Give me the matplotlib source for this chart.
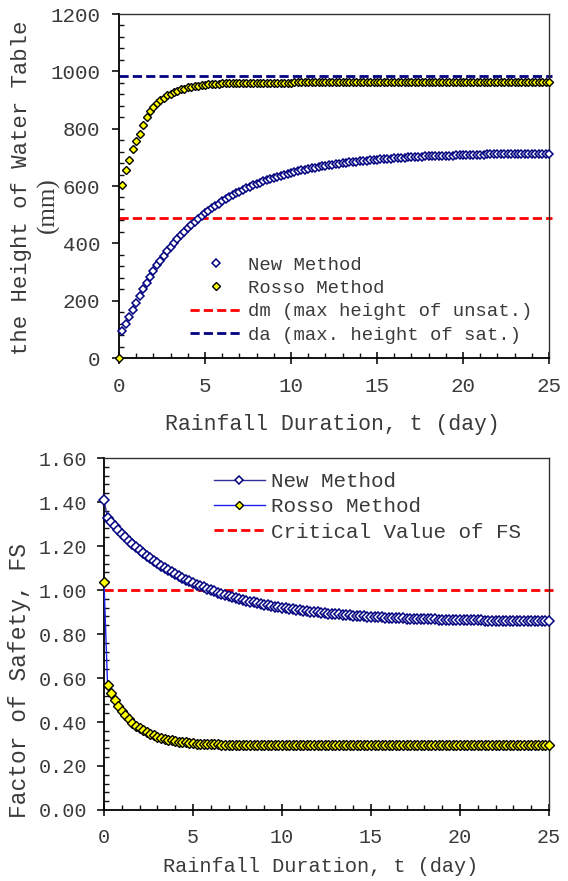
import numpy as np
import matplotlib.pyplot as plt
from matplotlib.ticker import MultipleLocator, FormatStrFormatter

plt.rcParams['font.family'] = ['Liberation Mono', 'DejaVu Sans Mono']
plt.rcParams['text.color'] = '#3a3a3a'
plt.rcParams['xtick.color'] = '#111111'
plt.rcParams['ytick.color'] = '#111111'
plt.rcParams['xtick.labelcolor'] = '#3a3a3a'
plt.rcParams['ytick.labelcolor'] = '#3a3a3a'

DAY_STEP = 0.2  # sampling step of both models (day)

# --- water table height (mm) ---
height_new = [
    95, 118, 142, 168, 193, 218, 241, 263, 284, 304,
    323, 340, 356, 372, 387, 401, 415, 428, 441, 453,
    464, 475, 485, 495, 505, 514, 523, 531, 539, 547,
    554, 561, 568, 574, 580, 586, 592, 597, 602, 607,
    612, 616, 621, 625, 629, 633, 636, 640, 643, 646,
    649, 652, 655, 657, 660, 662, 664, 667, 669, 671,
    673, 675, 676, 678, 680, 681, 683, 684, 685, 687,
    688, 689, 690, 691, 692, 693, 694, 695, 696, 697,
    698, 698, 699, 700, 700, 701, 702, 702, 703, 703,
    704, 704, 705, 705, 706, 706, 706, 707, 707, 708,
    708, 708, 709, 709, 709, 709, 710, 710, 710, 710,
    711, 711, 711, 711, 712, 712, 712, 712, 712, 712,
    713, 713, 713, 713, 713,
]  # starts at t = 0.2
height_rosso = [
    0,
    605, 655, 690, 729, 757, 780, 812, 840, 862, 876,
    888, 899, 908, 916, 922, 928, 933, 937, 940, 944,
    946, 948, 950, 952, 953, 955, 956, 957, 957, 958,
    958, 959, 959, 959, 960, 960, 960, 960, 961, 961,
    961, 961, 961, 961, 961, 961, 961, 961, 961, 961,
] + [962] * 75  # starts at t = 0
dm = 490   # max height of unsat.
da = 985   # max height of sat.

# --- factor of safety ---
fs_new = [
    1.410,
    1.327, 1.308, 1.290, 1.273, 1.256, 1.240, 1.225, 1.210, 1.196, 1.182,
    1.169, 1.156, 1.144, 1.133, 1.122, 1.111, 1.101, 1.091, 1.081, 1.072,
    1.064, 1.055, 1.047, 1.040, 1.032, 1.025, 1.018, 1.012, 1.006, 1.000,
    0.994, 0.988, 0.983, 0.978, 0.973, 0.968, 0.964, 0.960, 0.955, 0.951,
    0.947, 0.944, 0.940, 0.937, 0.934, 0.930, 0.927, 0.925, 0.922, 0.919,
    0.917, 0.914, 0.912, 0.910, 0.907, 0.905, 0.903, 0.901, 0.900, 0.898,
    0.896, 0.894, 0.893, 0.891, 0.890, 0.889, 0.887, 0.886, 0.885, 0.883,
    0.882, 0.881, 0.880, 0.879, 0.878, 0.877, 0.876, 0.876, 0.875, 0.874,
    0.873, 0.872, 0.872, 0.871, 0.870, 0.870, 0.869, 0.869, 0.868, 0.867,
    0.867, 0.866, 0.866, 0.865, 0.865, 0.865, 0.864, 0.864, 0.864, 0.863,
    0.863, 0.863, 0.862, 0.862, 0.862, 0.862, 0.861, 0.861, 0.861, 0.861,
    0.860, 0.860, 0.860, 0.860, 0.860, 0.859, 0.859, 0.859, 0.859, 0.859,
    0.858, 0.858, 0.858, 0.858, 0.858,
]
fs_rosso = [
    1.035,
    0.568, 0.532, 0.501, 0.474, 0.451, 0.430, 0.413, 0.397, 0.384, 0.372,
    0.362, 0.353, 0.345, 0.339, 0.333, 0.328, 0.323, 0.320, 0.316, 0.313,
    0.311, 0.309, 0.307, 0.305, 0.304, 0.302, 0.301, 0.300, 0.300, 0.299,
    0.298, 0.298, 0.297, 0.297, 0.296, 0.296, 0.296, 0.295, 0.295, 0.295,
] + [0.294] * 85
fs_critical = 1.0

t_all = np.round(np.arange(len(height_rosso)) * DAY_STEP, 1)
t_new = t_all[1:]

navy = '#000080'
red = '#ff0000'
yellow = '#ffff00'

fig = plt.figure(figsize=(5.68, 8.81), dpi=100)

# ---------------- top chart ----------------
ax1 = fig.add_axes([0.2095, 0.5936, 0.757, 0.3905])
ax1.plot(t_new, height_new, ls='none', marker='D', ms=4.0, mfc='white',
         mec=navy, mew=1.1, label='New Method', clip_on=False, zorder=3)
ax1.plot(t_all, height_rosso, ls='none', marker='D', ms=4.0, mfc=yellow,
         mec='black', mew=1.0, label='Rosso Method', clip_on=False, zorder=4)
ax1.plot([0, 25.2], [dm, dm], color=red, lw=2, dashes=(3.3, 1.5),
         label='dm (max height of unsat.)', clip_on=False)
ax1.plot([0, 25.2], [da, da], color=navy, lw=2, dashes=(3.3, 1.5),
         label='da (max. height of sat.)', clip_on=False)
ax1.set_xlim(0, 25)
ax1.set_ylim(0, 1200)
ax1.xaxis.set_major_locator(MultipleLocator(5))
ax1.xaxis.set_minor_locator(MultipleLocator(1))
ax1.yaxis.set_major_locator(MultipleLocator(200))
ax1.yaxis.set_minor_locator(MultipleLocator(40))
ax1.tick_params(axis='x', which='major', direction='inout', length=8, width=1.2,
                labelsize=15, pad=10)
ax1.tick_params(axis='x', which='minor', direction='in', length=3.5, width=1)
ax1.tick_params(axis='y', which='major', direction='out', length=5, width=1.2,
                labelsize=15, pad=8.5)
ax1.tick_params(axis='y', which='minor', direction='in', length=3.5, width=1)
ax1.legend(loc='upper left', bbox_to_anchor=(0.165, 0.295), frameon=False,
           fontsize=13.6, handlelength=2.8, handletextpad=0.3, labelspacing=0.32,
           borderpad=0, borderaxespad=0, numpoints=1)
fig.text(0.5845, 0.5187, 'Rainfall Duration, t (day)', ha='center', va='center',
         fontsize=15.5)
fig.text(22 / 568, 0.7866, 'the Height of Water Table', rotation=90,
         ha='center', va='center', fontsize=16)
fig.text(48 / 568, 0.7673, '(mm)', rotation=90, ha='center', va='center',
         fontsize=18, family='Liberation Serif')

# ---------------- bottom chart ----------------
ax2 = fig.add_axes([0.1831, 0.0806, 0.7834, 0.3995])
ax2.plot(t_all, fs_new, color='#30309a', lw=1, marker='D', ms=5.2, mfc='white',
         mec=navy, mew=1.1, label='New Method', clip_on=False, zorder=3)
ax2.plot(t_all, fs_rosso, color='#2020f0', lw=1, marker='D', ms=5.2, mfc=yellow,
         mec='black', mew=1.0, label='Rosso Method', clip_on=False, zorder=4)
ax2.plot([0, 25.2], [fs_critical, fs_critical], color=red, lw=2,
         dashes=(3.3, 1.5), label='Critical Value of FS', clip_on=False)
ax2.set_xlim(0, 25)
ax2.set_ylim(0, 1.6)
ax2.xaxis.set_major_locator(MultipleLocator(5))
ax2.xaxis.set_minor_locator(MultipleLocator(1))
ax2.yaxis.set_major_locator(MultipleLocator(0.2))
ax2.yaxis.set_minor_locator(MultipleLocator(0.04))
ax2.yaxis.set_major_formatter(FormatStrFormatter('%.2f'))
ax2.tick_params(axis='x', which='major', direction='inout', length=8, width=1.2,
                labelsize=14.5, pad=9)
ax2.tick_params(axis='x', which='minor', direction='in', length=3.5, width=1)
ax2.tick_params(axis='y', which='major', direction='out', length=5, width=1.2,
                labelsize=14.5, pad=7)
ax2.tick_params(axis='y', which='minor', direction='in', length=3.5, width=1)
ax2.legend(loc='upper left', bbox_to_anchor=(0.247, 0.96), frameon=False,
           fontsize=15, handlelength=2.45, handletextpad=0.3, labelspacing=0.3,
           borderpad=0, borderaxespad=0, numpoints=1, markerscale=0.8)
fig.text(0.564, 1 - 867 / 881, 'Rainfall Duration, t (day)', ha='center',
         va='center', fontsize=14.6)
fig.text(20 / 568, 1 - 680 / 881, 'Factor of Safety, FS', rotation=90,
         ha='center', va='center', fontsize=16.5)

for ax in (ax1, ax2):
    ax.spines['left'].set_linewidth(1.3)
    ax.spines['bottom'].set_linewidth(1.3)
    ax.spines['top'].set_linewidth(1.0)
    ax.spines['right'].set_linewidth(1.0)
    ax.spines['top'].set_color('#333333')
    ax.spines['right'].set_color('#333333')

fig.savefig('out.png', dpi=100)
